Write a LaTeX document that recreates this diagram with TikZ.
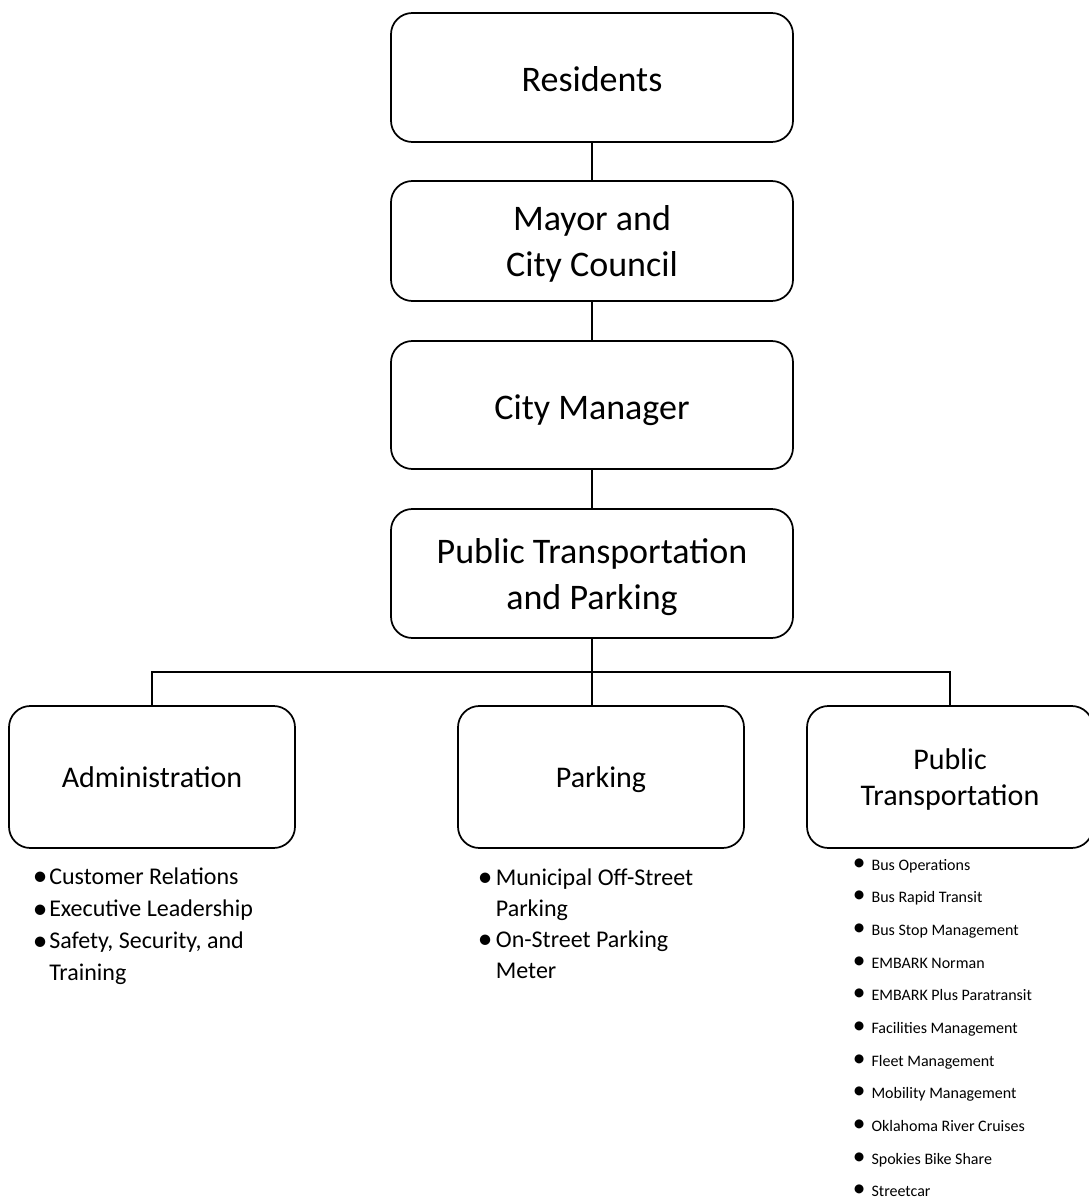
\documentclass[tikz,border=0pt]{standalone}
\usepackage{fontspec}
\setmainfont{Carlito}
\newcommand{\bl}[3]{\makebox[#1][l]{\raisebox{#2}{\fontsize{#3}{#3}\selectfont •}}}
\newcommand{\ba}{\bl{12.3pt}{-1.3pt}{22}}
\newcommand{\bp}{\bl{13.5pt}{-1.3pt}{22}}
\newcommand{\bs}{\bl{14pt}{0pt}{19}}
\newcommand{\li}[1]{\hbox{#1}}
\begin{document}
\begin{tikzpicture}[x=0.75pt,y=-0.75pt,line width=1.3pt,
  box/.style={draw, rounded corners=16pt, align=center, inner sep=0pt, text depth=0pt},
  topbox/.style={box, minimum width=301.5pt, font=\fontsize{27}{34.5}\selectfont},
  oneline/.style={text height=21.5pt},
  lowbox/.style={box, minimum width=214.5pt, minimum height=106.5pt, font=\fontsize{22.5}{27}\selectfont},
  blist/.style={anchor=base west, inner sep=0pt, font=\fontsize{18}{24.2}\selectfont},
  plist/.style={anchor=base west, inner sep=0pt, font=\fontsize{18}{23.3}\selectfont},
  slist/.style={anchor=base west, inner sep=0pt, font=\fontsize{12}{24.5}\selectfont}]
\useasboundingbox (0,0) rectangle (1088,1201);
\node[topbox, oneline, minimum height=96.75pt] (res) at (592,77.5) {Residents};
\node[topbox, minimum height=90pt] (mayor) at (592,241) {Mayor and\\City Council};
\node[topbox, oneline, minimum height=96pt] (cm) at (592,405) {City Manager};
\node[topbox, minimum height=96.75pt] (ptp) at (592,573.5) {Public Transportation\\and Parking};
\node[lowbox] (admin) at (152,777) {Administration};
\node[lowbox] (park) at (601,777) {Parking};
\node[lowbox] (pt) at (950,777) {Public\\Transportation};
\coordinate (bus) at (592,672);
\draw (res) -- (mayor);
\draw (mayor) -- (cm);
\draw (cm) -- (ptp);
\draw (ptp.south) -- (bus);
\draw (admin.north) |- (bus) -| (pt.north);
\draw (bus) -- (bus |- park.north);
\node[blist] (adminlist) at (32,884) {\vtop{
\li{\ba Customer Relations}
\li{\ba Executive Leadership}
\li{\ba Safety, Security, and}
\li{\hspace*{12.3pt}Training}}};
\node[plist] (parklist) at (477,885) {\vtop{
\li{\bp Municipal Off-Street}
\li{\hspace*{13.5pt}Parking}
\li{\bp On-Street Parking}
\li{\hspace*{13.5pt}Meter}}};
\node[slist] (ptlist) at (852,870) {\vtop{
\li{\bs Bus Operations}
\li{\bs Bus Rapid Transit}
\li{\bs Bus Stop Management}
\li{\bs EMBARK Norman}
\li{\bs EMBARK Plus Paratransit}
\li{\bs Facilities Management}
\li{\bs Fleet Management}
\li{\bs Mobility Management}
\li{\bs Oklahoma River Cruises}
\li{\bs Spokies Bike Share}
\li{\bs Streetcar}}};
\end{tikzpicture}
\end{document}
